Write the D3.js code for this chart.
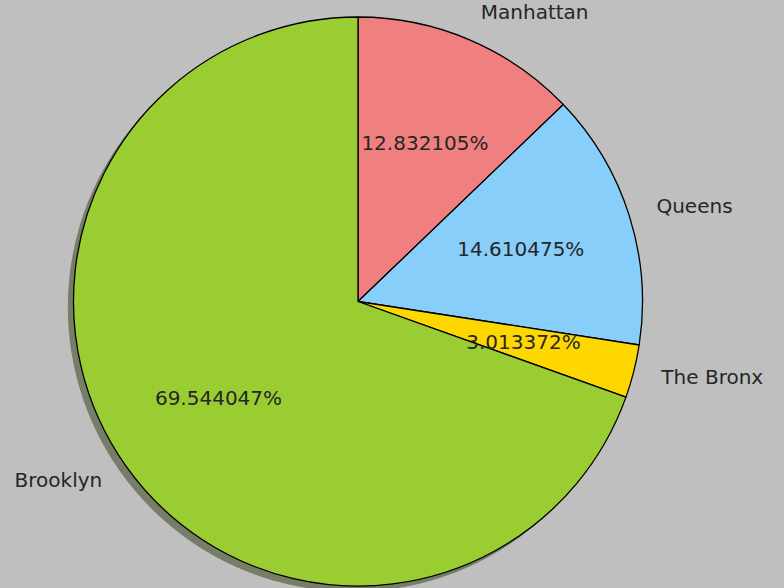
<!DOCTYPE html>
<html><head><meta charset="utf-8">
<script src="https://cdn.jsdelivr.net/npm/d3@7"></script>
<style>html,body{margin:0;padding:0;background:#bfbfbf;}svg{display:block;}</style>
</head><body>
<script>
const labels = ["Manhattan", "Queens", "The Bronx", "Brooklyn"];
const values = [12.832105, 14.610475, 3.013372, 69.544047];
const colors = ["#f08080", "#87cefa", "#ffd700", "#9acd32"];

const W = 784, H = 588;
const cx = 358, cy = 301.5, R = 284.5;
const svg = d3.select("body").append("svg").attr("width", W).attr("height", H);
svg.append("rect").attr("width", W).attr("height", H).attr("fill", "#bfbfbf");

const data = labels.map((l, i) => ({label: l, value: values[i], color: colors[i]}));
const pie = d3.pie().sort(null).value(d => d.value).startAngle(0).endAngle(2 * Math.PI);
const arcs = pie(data);
const arc = d3.arc().innerRadius(0).outerRadius(R);

const shadow = svg.append("g").attr("transform", `translate(${cx - 5.7},${cy + 5.7})`);
shadow.selectAll("path").data(arcs).join("path")
  .attr("d", arc)
  .attr("fill", d => { const c = d3.rgb(d.data.color); return d3.rgb(c.r * 0.3, c.g * 0.3, c.b * 0.3); })
  .attr("fill-opacity", 0.5);

const g = svg.append("g").attr("transform", `translate(${cx},${cy})`);
g.selectAll("path.w").data(arcs).join("path")
  .attr("class", "w")
  .attr("d", arc)
  .attr("fill", d => d.data.color)
  .attr("stroke", "#000").attr("stroke-width", 1.3).attr("stroke-linejoin", "round");

const font = "DejaVu Sans";
const fs = 20;
const dyAdj = -1.5;
arcs.forEach(d => {
  const a = (d.startAngle + d.endAngle) / 2;
  const sx = Math.sin(a), sy = -Math.cos(a);
  g.append("text")
    .attr("x", 1.1 * R * sx).attr("y", 1.1 * R * sy + dyAdj)
    .attr("text-anchor", sx > 0 ? "start" : "end")
    .attr("dominant-baseline", "central")
    .attr("font-family", font).attr("font-size", fs).attr("fill", "#262626")
    .text(d.data.label);
  g.append("text")
    .attr("x", 0.6 * R * sx).attr("y", 0.6 * R * sy + dyAdj)
    .attr("text-anchor", "middle")
    .attr("dominant-baseline", "central")
    .attr("font-family", font).attr("font-size", fs).attr("fill", "#262626")
    .text(d3.format(".6f")(d.data.value) + "%");
});
</script>
</body></html>
